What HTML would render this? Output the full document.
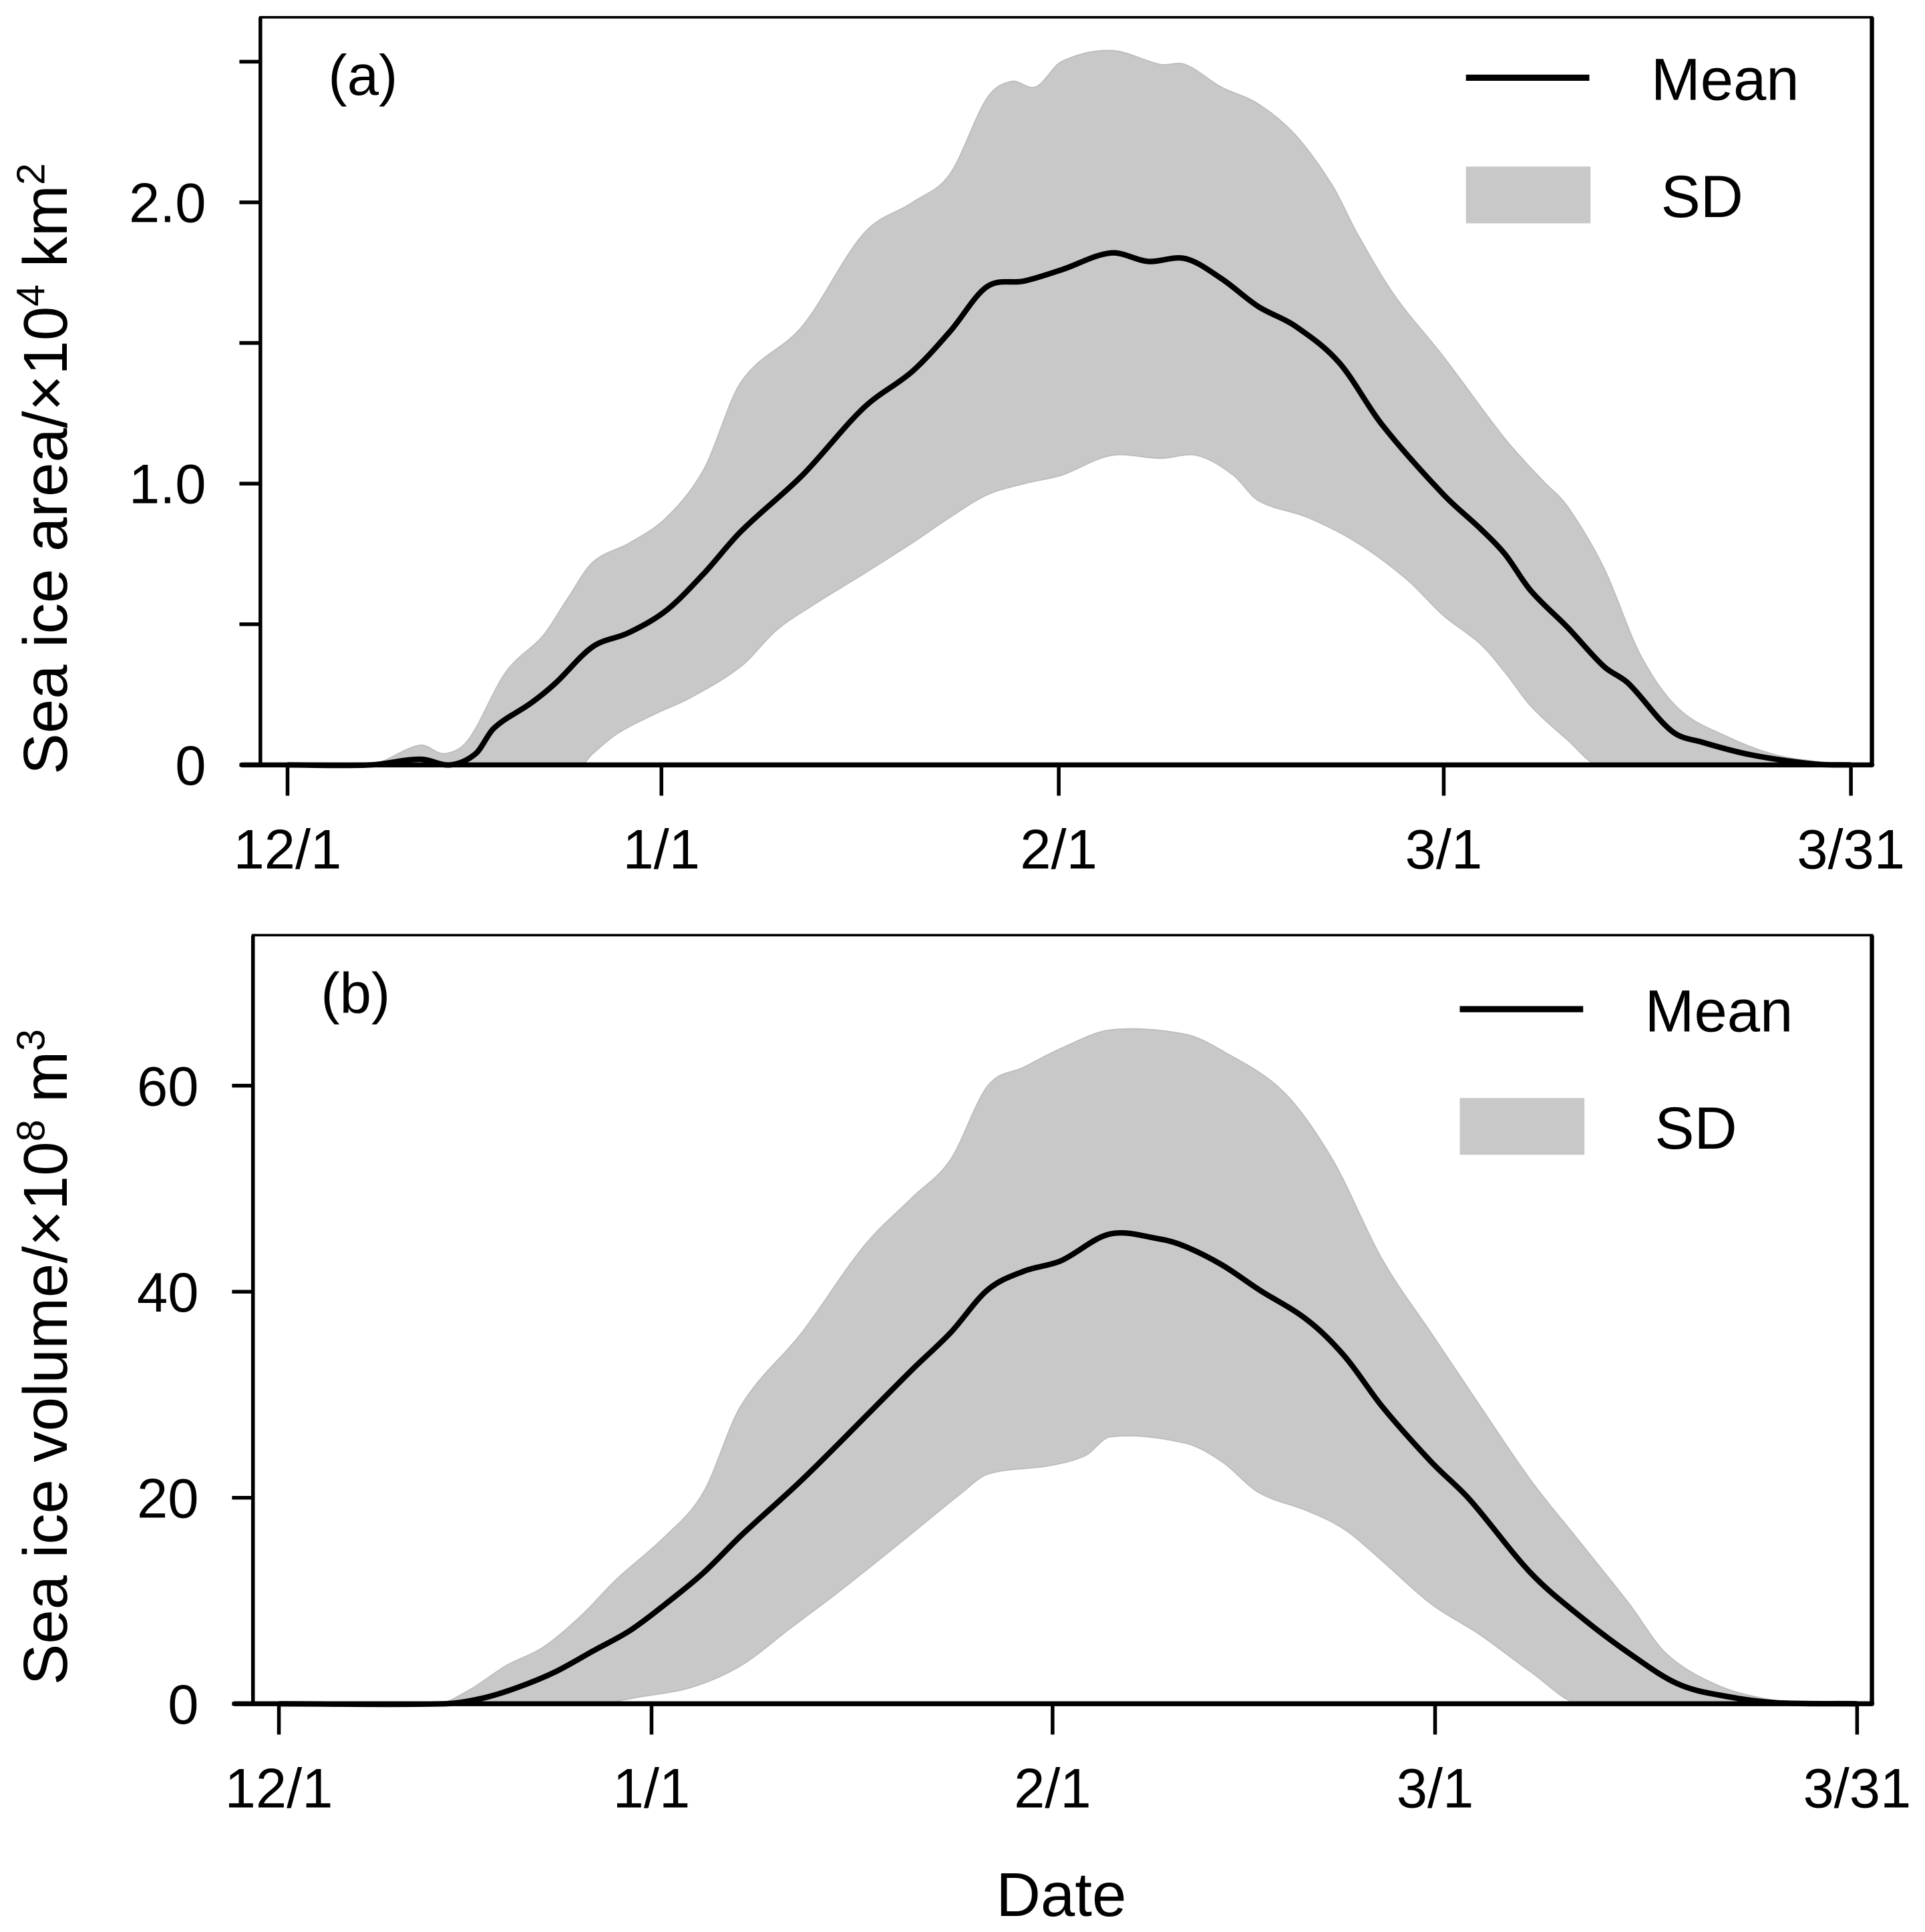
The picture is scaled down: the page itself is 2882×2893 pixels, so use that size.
<!DOCTYPE html>
<html><head><meta charset="utf-8"><style>
html,body{margin:0;padding:0;background:#fff;}
svg{display:block;font-family:"Liberation Sans",Arial,sans-serif;}
</style></head><body>
<svg id="chart" width="2882" height="2893" viewBox="0 0 1560 1566" xmlns="http://www.w3.org/2000/svg">
<defs>
<clipPath id="clip-pa"><rect x="211" y="14" width="1306" height="606"/></clipPath>
<clipPath id="clip-pb"><rect x="205" y="758" width="1312" height="623"/></clipPath>
</defs>
<g id="pa"></g>
<g id="pb"></g>
<text x="860" y="1553" font-size="50" text-anchor="middle">Date</text>
</svg>
<script>
// ---- data (day index from 12/1) ----
const tickDays = [0, 31, 62, 90, 120];
const tickLabels = ["12/1", "1/1", "2/1", "3/1", "3/31"];

const aMeanDays = [0,6.9,11,13.5,15.6,17.1,20.2,22.2,25.3,28.3,31.4,34.3,37.2,42,46.8,50.6,53.5,56.4,59.3,62.2,65.8,68.5,71.2,73.8,76.5,79.2,82.4,85.5,90,92.7,94.5,96.4,99.1,101.8,103.6,106.8,109.1,112.7,117.3,120];
const aMeanVals = [0,0,0.02,0,0.04,0.13,0.22,0.29,0.42,0.47,0.55,0.68,0.83,1.03,1.27,1.40,1.54,1.70,1.72,1.76,1.82,1.79,1.80,1.73,1.63,1.56,1.43,1.21,0.96,0.84,0.75,0.62,0.49,0.35,0.29,0.12,0.08,0.035,0.003,0];
const aUpDays = [0,6.9,11,13,15,18.1,21.2,23.2,25.3,28.4,31.4,34.3,37.2,42,46.8,50.6,53.5,56.4,58.3,60.2,62.2,65.8,69.4,71.2,73.8,76.5,79.2,81.9,83.7,86.4,90,94.5,97.3,99.1,101.8,104.5,107.3,110.9,114.5,118.2,120];
const aUpVals = [0,0,0.07,0.04,0.09,0.33,0.46,0.59,0.72,0.79,0.88,1.05,1.36,1.56,1.89,2.0,2.1,2.37,2.43,2.41,2.5,2.54,2.49,2.49,2.41,2.35,2.24,2.06,1.89,1.67,1.45,1.16,1.01,0.92,0.70,0.39,0.2,0.1,0.035,0.008,0];
const aLoDays = [0,24.3,25.3,27.3,30.4,33.3,37.2,40,42.9,46.8,50.6,53.5,56.4,59.3,62.2,65.8,69.4,72.1,74.7,76.5,80.1,83.7,87.3,90,92.7,94.5,96.4,99.1,101.4,120];
const aLoVals = [0,0,0.04,0.11,0.18,0.24,0.35,0.48,0.57,0.68,0.79,0.88,0.96,1.0,1.03,1.10,1.09,1.10,1.03,0.94,0.88,0.79,0.66,0.53,0.43,0.33,0.21,0.09,0,0];

const bMeanDays = [0,13.8,16.8,19.9,23,26.1,29.2,32.1,35,37.9,42.6,47.4,51.2,54.1,57,59.8,62.6,66.2,69.9,71.7,74.4,77.1,80.7,83.4,86.1,89.7,92.4,96.8,100.3,103.8,107.3,110.8,114.3,120];
const bMeanVals = [0,0,0.5,1.6,3.1,5.1,7.1,9.7,12.7,16.3,21.7,27.7,32.5,36,40.2,42,43,45.6,45.1,44.4,42.6,40.2,37.2,33.7,28.9,23.5,19.9,12.7,8.5,4.9,1.9,0.7,0.1,0];
const bUpDays = [0,13.2,15.8,18.9,22,25.1,28.1,32.1,35,37.9,42.6,47.4,51.2,54.1,57,59.8,62.6,66.2,71.7,74.4,78.9,82.5,86.1,89.7,93.2,96.8,100.3,103.8,106.4,109.9,113.4,116.9,120];
const bUpVals = [0,0,1.3,3.7,5.5,8.5,12.1,16.3,20.5,28.9,36,44.4,49.2,52.8,60,61.8,63.6,65.4,65,63.4,59.4,52.8,43.2,36,28.9,21.7,15.7,9.7,4.9,1.9,0.5,0,0];
const bLoDays = [0,26.1,30.2,34.1,37.9,41.7,45.5,50.3,55,57,61.7,64.4,66.2,71.7,74.4,77.1,80.7,83.4,86.1,89.7,93.2,96.8,100.3,120];
const bLoVals = [0,0,0.7,1.6,3.7,7.3,10.9,15.7,20.5,22.3,23.1,24.1,25.9,25.3,23.5,20.5,18.7,16.9,13.9,9.7,6.7,3.1,0,0];

const aYTicks = [0, 0.5, 1.0, 1.5, 2.0, 2.5];
const aYLabels = ["0", "", "1.0", "", "2.0", ""];
const bYTicks = [0, 20, 40, 60];
const bYLabels = ["0", "20", "40", "60"];

const NS = "http://www.w3.org/2000/svg";
function mk(parent, tag, attrs, text) {
  const e = document.createElementNS(NS, tag);
  for (const k in attrs) e.setAttribute(k, attrs[k]);
  if (text !== undefined) e.textContent = text;
  parent.appendChild(e);
  return e;
}
function makeX(px) {
  return function (d) {
    for (let i = 0; i < tickDays.length - 1; i++) {
      if (d <= tickDays[i + 1] || i === tickDays.length - 2) {
        const t = (d - tickDays[i]) / (tickDays[i + 1] - tickDays[i]);
        return px[i] + t * (px[i + 1] - px[i]);
      }
    }
  };
}
function clamp(v, a, b) { const lo = Math.min(a, b), hi = Math.max(a, b); return Math.max(lo, Math.min(hi, v)); }
function smooth(pts, start) {
  let d = (start ? "M" : "L") + pts[0][0].toFixed(1) + "," + pts[0][1].toFixed(1);
  for (let i = 0; i < pts.length - 1; i++) {
    const p0 = pts[Math.max(0, i - 1)], p1 = pts[i], p2 = pts[i + 1], p3 = pts[Math.min(pts.length - 1, i + 2)];
    // tangents scaled by the local segment length to avoid overshoot
    const seg = Math.abs(p2[0] - p1[0]);
    const s1 = (p2[0] - p0[0]) !== 0 ? (p2[1] - p0[1]) / (p2[0] - p0[0]) : 0;
    const s2 = (p3[0] - p1[0]) !== 0 ? (p3[1] - p1[1]) / (p3[0] - p1[0]) : 0;
    const dir = Math.sign(p2[0] - p1[0]) || 1;
    const h = seg / 3;
    const c1 = [p1[0] + dir * h, p1[1] + s1 * dir * h];
    const c2 = [p2[0] - dir * h, p2[1] - s2 * dir * h];
    d += "C" + c1[0].toFixed(1) + "," + c1[1].toFixed(1) + " " + c2[0].toFixed(1) + "," + c2[1].toFixed(1) + " " + p2[0].toFixed(1) + "," + p2[1].toFixed(1);
  }
  return d;
}
function drawPanel(g, cfg) {
  const x = makeX(cfg.tickPx);
  const y = v => cfg.y0 - v * cfg.ppu;
  const up = cfg.upD.map((dd, i) => [x(dd), y(cfg.upV[i])]);
  const lo = cfg.loD.map((dd, i) => [x(dd), y(cfg.loV[i])]).reverse();
  const d = smooth(up, true) + smooth(lo, false) + "Z";
  const band = mk(g, "path", { d: d, fill: "#c8c8c8", stroke: "#bdbdbd", "stroke-width": 1, "clip-path": "url(#" + cfg.clip + ")" });
  
  
  const mp = cfg.mD.map((dd, i) => [x(dd), y(cfg.mV[i])]);
  const ml = mk(g, "path", { d: smooth(mp, true), fill: "none", stroke: "#000", "stroke-width": 4.5, "stroke-linejoin": "round" });
  
  
  const fr = mk(g, "rect", { x: cfg.L, y: cfg.T, width: cfg.R - cfg.L, height: cfg.y0 - cfg.T, fill: "none", stroke: "#000", "stroke-width": 2 });
  
  
  mk(g, "line", { x1: cfg.R, y1: cfg.T, x2: cfg.R, y2: cfg.y0, stroke: "#000", "stroke-width": 3.5 });
  const ax = mk(g, "line", { x1: cfg.L - 15, y1: cfg.y0, x2: cfg.R, y2: cfg.y0, stroke: "#000", "stroke-width": 4, "stroke-linecap": "round" });
  
  
  const ayl = mk(g, "line", { x1: cfg.L, y1: cfg.T, x2: cfg.L, y2: cfg.y0, stroke: "#000", "stroke-width": 3 });
  
  
  tickDays.forEach((td, i) => {
    const xx = x(td);
    const tk = mk(g, "line", { x1: xx, y1: cfg.y0, x2: xx, y2: cfg.y0 + 25, stroke: "#000", "stroke-width": 3 });
    
    
    const tl = mk(g, "text", { x: xx, y: cfg.y0 + 84, "font-size": 45, "text-anchor": "middle" }, tickLabels[i]);
    
    
  });
  cfg.yT.forEach((v, i) => {
    const yy = y(v);
    const tk = mk(g, "line", { x1: cfg.L - 17, y1: yy, x2: cfg.L, y2: yy, stroke: "#000", "stroke-width": 3 });
    
    
    if (cfg.yL[i]) {
      const tl = mk(g, "text", { x: cfg.L - 44, y: yy + 16, "font-size": 45, "text-anchor": "end" }, cfg.yL[i]);
      
      
    }
  });
  const yt = mk(g, "text", { x: 0, y: 0, "font-size": 50, "text-anchor": "middle", transform: "translate(54," + cfg.titleY + ") rotate(-90)" });
  
  
  mk(yt, "tspan", {}, cfg.title);
  mk(yt, "tspan", { dy: -18, "font-size": 32 }, cfg.sup);
  mk(yt, "tspan", { dy: 18 }, cfg.unit);
  if (cfg.sup2) mk(yt, "tspan", { dy: -18, "font-size": 32 }, cfg.sup2);
  const pl = mk(g, "text", { x: cfg.L + 55, y: cfg.T + 63, "font-size": 46 }, cfg.label);
  
  
  const lg = mk(g, "g", {});
  
  
  mk(lg, "line", { x1: cfg.legX, y1: cfg.legY, x2: cfg.legX + 100, y2: cfg.legY, stroke: "#000", "stroke-width": 5 });
  const lt = mk(lg, "text", { x: cfg.legX + 150, y: cfg.legY + 18, "font-size": 48 }, "Mean");
  
  
  mk(lg, "rect", { x: cfg.legX, y: cfg.legY + 72, width: 101, height: 46, fill: "#c8c8c8" });
  const st = mk(lg, "text", { x: cfg.legX + 158, y: cfg.legY + 113, "font-size": 48 }, "SD");
  
  
}
drawPanel(document.getElementById("pa"), {
  L: 211, R: 1517, T: 14, y0: 620, ppu: 228, tickPx: [233, 536, 858, 1170, 1500], clip: "clip-pa",
  upD: aUpDays, upV: aUpVals, loD: aLoDays, loV: aLoVals, mD: aMeanDays, mV: aMeanVals,
  yT: aYTicks, yL: aYLabels, title: "Sea ice area/×10", sup: "4", unit: " km", sup2: "2", titleY: 380,
  label: "(a)", legX: 1188, legY: 63
});
drawPanel(document.getElementById("pb"), {
  L: 205, R: 1517, T: 758, y0: 1381, ppu: 8.35, tickPx: [226, 528, 853, 1163, 1505], clip: "clip-pb",
  upD: bUpDays, upV: bUpVals, loD: bLoDays, loV: bLoVals, mD: bMeanDays, mV: bMeanVals,
  yT: bYTicks, yL: bYLabels, title: "Sea ice volume/×10", sup: "8", unit: " m", sup2: "3", titleY: 1100,
  label: "(b)", legX: 1183, legY: 818
});
</script>
</body></html>
